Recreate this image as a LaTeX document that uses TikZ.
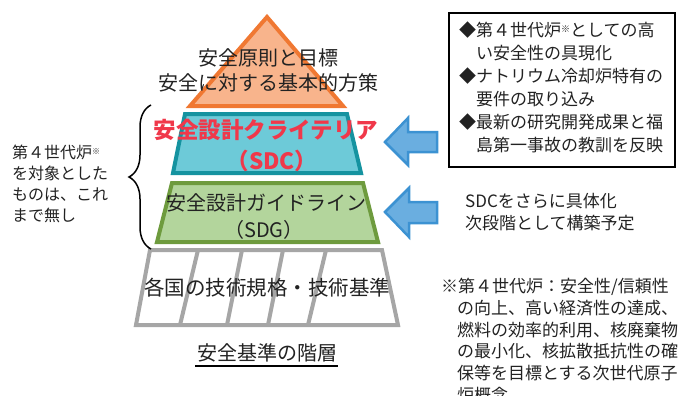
\documentclass[tikz,border=0pt]{standalone}
\usepackage{fontspec}
\setmainfont{Noto Sans CJK JP}
\usetikzlibrary{decorations.pathreplacing}
\definecolor{triF}{HTML}{F8B48C}
\definecolor{triD}{HTML}{F07832}
\definecolor{sdcF}{HTML}{6DCAD8}
\definecolor{sdcD}{HTML}{1593A0}
\definecolor{sdgF}{HTML}{B3D59C}
\definecolor{sdgD}{HTML}{6E9B3E}
\definecolor{grayD}{HTML}{A6A6A6}
\definecolor{arrF}{HTML}{6AAEE0}
\definecolor{arrD}{HTML}{3C92D2}
\definecolor{redT}{HTML}{F0384A}
\definecolor{txt}{HTML}{222222}
\begin{document}
\begin{tikzpicture}[x=1pt,y=-1pt,
  layer/.style={line width=4pt,line join=miter},
  blockarrow/.style={fill=arrF,draw=arrD,line width=2.5pt,line join=miter},
  lbl/.style={inner sep=0pt,text=txt,align=center},
  fs/.style={font=\fontsize{#1}{#1}\selectfont}]
\useasboundingbox (0,0) rectangle (685,396);
% pyramid layers
\draw[layer,fill=triF,draw=triD] (267,17) -- (343,106) -- (190,106) -- cycle;
\draw[layer,fill=sdcF,draw=sdcD] (185,114) -- (347,114) -- (361,173) -- (173,173) -- cycle;
\draw[layer,fill=sdgF,draw=sdgD] (172,183) -- (363,183) -- (378,242) -- (157,242) -- cycle;
\draw[layer,fill=white,draw=grayD] (150,250) -- (382,250) -- (398,325) -- (136,325) -- cycle;
\foreach \a/\b in {198/180,242/227,283/268,326/308}
  \draw[grayD,line width=4pt] (\a,250) -- (\b,325);
% texts in pyramid
\node[lbl,font=\fontsize{20}{25}\selectfont] (top) at (268,70) {安全原則と目標\\安全に対する基本的方策};
\node[lbl,text=redT,font={\fontsize{22.5}{22.5}\selectfont\bfseries}] (sdc1) at (266,130) {安全設計クライテリア};
\node[lbl,text=redT,font={\fontsize{22.5}{22.5}\selectfont\bfseries}] (sdc2) at (272,161) {（SDC）};
\node[lbl,fs=20] (sdg1) at (266,203) {安全設計ガイドライン};
\node[lbl,fs=20] (sdg2) at (264,230) {（SDG）};
\node[lbl,fs=20.5] (base) at (267,288) {各国の技術規格・技術基準};
\node[lbl,fs=20] (title) at (267,353) {安全基準の階層};
\draw[line width=1.6pt] (195,366) -- (338,366);
% brace
\draw[line width=1.5pt,decorate,decoration={brace,amplitude=22pt,aspect=0.5}] (151,249) -- (151,105);
\node[lbl,align=left,anchor=west,font=\fontsize{16}{21}\selectfont] (left) at (12,184)
  {第４世代炉\raisebox{0.5ex}{\fontsize{8}{8}\selectfont ※}\\を対象とした\\ものは、これ\\まで無し};
% arrows
\draw[blockarrow] (385,142) -- (408,118) -- (408,132) -- (437,132) -- (437,152) -- (408,152) -- (408,165) -- cycle;
\draw[blockarrow] (385,212) -- (409,188) -- (409,202) -- (437,202) -- (437,223) -- (409,223) -- (409,237) -- cycle;
% right box
\draw[line width=1.8pt] (449,13) rectangle (675,167);
\node[lbl,align=left,anchor=north west,font=\fontsize{17}{22.9}\selectfont] (box) at (459,22)
  {◆第４世代炉\raisebox{0.5ex}{\fontsize{9}{9}\selectfont ※}としての高\\
   \hspace*{17pt}い安全性の具現化\\
   ◆ナトリウム冷却炉特有の\\
   \hspace*{17pt}要件の取り込み\\
   ◆最新の研究開発成果と福\\
   \hspace*{17pt}島第一事故の教訓を反映};
\node[lbl,align=left,anchor=west,font=\fontsize{17}{21.5}\selectfont] (sdgnote) at (465,212)
  {SDCをさらに具体化\\次段階として構築予定};
\node[lbl,align=left,anchor=north west,font=\fontsize{17}{21.8}\selectfont] (foot) at (441,278)
  {※第４世代炉：安全性/信頼性\\
   \hspace*{16pt}の向上、高い経済性の達成、\\
   \hspace*{16pt}燃料の効率的利用、核廃棄物\\
   \hspace*{16pt}の最小化、核拡散抵抗性の確\\
   \hspace*{16pt}保等を目標とする次世代原子\\
   \hspace*{16pt}炉概念};
\end{tikzpicture}
\end{document}
